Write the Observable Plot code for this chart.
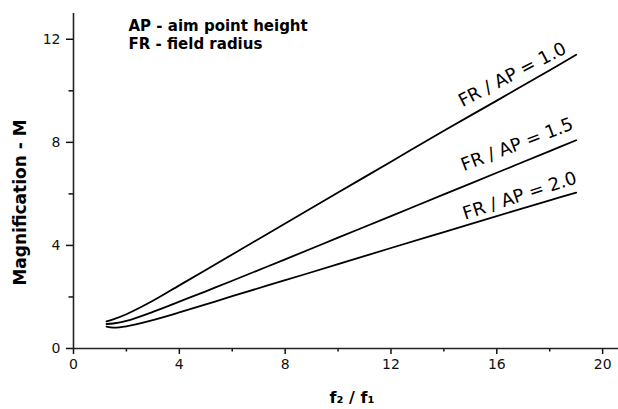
<!DOCTYPE html>
<html><head><meta charset="utf-8">
<script src="https://cdn.jsdelivr.net/npm/d3@7"></script>
<script src="https://cdn.jsdelivr.net/npm/@observablehq/plot@0.6"></script>
<style>body{margin:0;background:#fff} svg{display:block}</style>
</head><body><div id="chart"></div>
<script>
// focal-length ratio f2/f1
const ratio = [1.25, 1.5, 2, 3, 4, 5, 6, 8, 10, 12, 14, 16, 18, 19];
// magnification for each FR/AP series
const m10 = [1.05, 1.13, 1.33, 1.85, 2.45, 3.05, 3.65, 4.85, 6.05, 7.25, 8.45, 9.62, 10.8, 11.4];
const m15 = [0.95, 0.97, 1.07, 1.42, 1.82, 2.22, 2.63, 3.46, 4.30, 5.14, 5.98, 6.82, 7.66, 8.08];
const m20 = [0.85, 0.81, 0.86, 1.10, 1.40, 1.71, 2.03, 2.65, 3.27, 3.90, 4.52, 5.14, 5.75, 6.05];
const seriesNames = ["FR / AP = 1.0", "FR / AP = 1.5", "FR / AP = 2.0"];
const seriesValues = [m10, m15, m20];
const labelX = [14.7, 14.75, 14.8];
const xMajorTicks = [0, 4, 8, 12, 16, 20];
const xMinorTicks = [2, 6, 10, 14, 18];
const yMajorTicks = [0, 4, 8, 12];
const yMinorTicks = [2, 6, 10];
const notes = ["AP - aim point height", "FR - field radius"];
const xLabel = "f₂ / f₁";
const yLabel = "Magnification - M";

const W = 618, H = 409, mL = 73, mR = 0, mT = 13, mB = 61;
const xDomain = [0, 20.6], yDomain = [0, 13];

const rows = [];
seriesNames.forEach((s, i) => ratio.forEach((r, j) => rows.push({x: r, y: seriesValues[i][j], s})));

// label styling (rotation + offset above the curve)
const labelStyle = [
  {rotate: -27.5, dy: -13},
  {rotate: -21, dy: -15},
  {rotate: -18, dy: -6}
];
const labelMarks = seriesNames.map((s, i) => {
  const interp = d3.scaleLinear().domain(ratio).range(seriesValues[i]);
  const d = [{x: labelX[i], y: interp(labelX[i]), t: s}];
  return Plot.text(d, {x: "x", y: "y", text: "t", textAnchor: "start", lineAnchor: "bottom",
    rotate: labelStyle[i].rotate, dy: labelStyle[i].dy, fontSize: 18, fill: "#000"});
});

const chart = Plot.plot({
  width: W, height: H, marginLeft: mL, marginRight: mR, marginTop: mT, marginBottom: mB,
  style: {fontFamily: "DejaVu Sans", fontSize: "14px", color: "#111", background: "#fff"},
  x: {domain: xDomain},
  y: {domain: yDomain},
  marks: [
    Plot.axisX({ticks: xMajorTicks, tickSize: 6, tickPadding: 5, strokeWidth: 1.5, label: null, fontSize: 14}),
    Plot.axisX({ticks: xMinorTicks, tickSize: 3.5, strokeWidth: 1.5, text: null, label: null}),
    Plot.axisY({ticks: yMajorTicks, tickSize: 7, tickPadding: 6, strokeWidth: 1.5, label: null, fontSize: 14}),
    Plot.axisY({ticks: yMinorTicks, tickSize: 4.5, strokeWidth: 1.5, text: null, label: null}),
    Plot.ruleY([0], {stroke: "#222", strokeWidth: 1.6}),
    Plot.ruleX([0], {stroke: "#222", strokeWidth: 1.6}),
    Plot.line(rows, {x: "x", y: "y", z: "s", stroke: "#000", strokeWidth: 1.8, curve: "catmull-rom"}),
    ...labelMarks,
    Plot.text([notes.join("\n")], {text: d => d, frameAnchor: "top-left", dx: 55, dy: 4, lineAnchor: "top",
      textAnchor: "start", lineHeight: 1.23, fontWeight: "bold", fontSize: 15, fill: "#000"}),
    Plot.text([yLabel], {text: d => d, frameAnchor: "left", rotate: -90, dx: -52.5, dy: 21.5,
      textAnchor: "middle", lineAnchor: "middle", fontWeight: "bold", fontSize: 17, fill: "#000"}),
    Plot.text([xLabel], {text: d => d, frameAnchor: "bottom", dx: 6, dy: 54, lineAnchor: "bottom",
      textAnchor: "middle", fontWeight: "bold", fontSize: 16, fill: "#000"})
  ]
});
document.getElementById("chart").appendChild(chart);
</script>
</body></html>
